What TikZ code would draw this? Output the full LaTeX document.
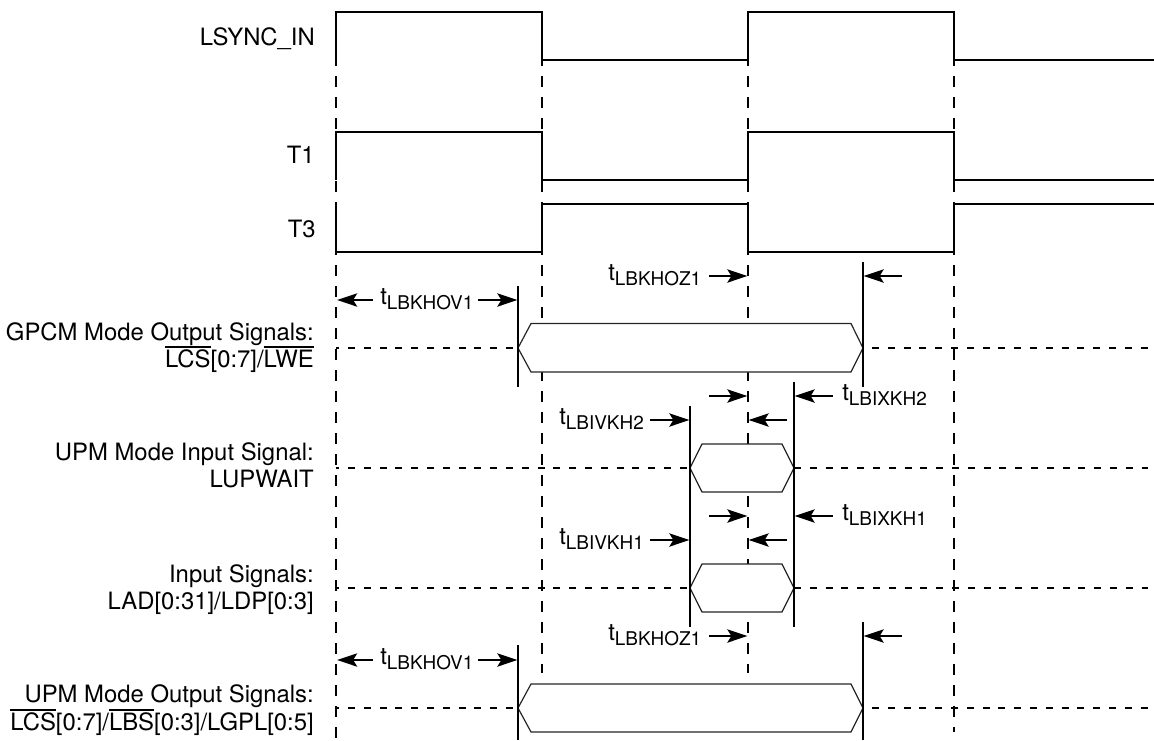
\documentclass[tikz,border=0pt]{standalone}
\usepackage{fontspec}
\usetikzlibrary{arrows.meta}
\setmainfont{TeX Gyre Heros}
\newcommand\ovl[1]{\setbox0\hbox{#1}\rlap{\raisebox{14.6pt}{\rule{\wd0}{1pt}}}\box0}
\newcommand\tmg[1]{t\raisebox{-4.4pt}{\fontsize{14.2}{17}\selectfont #1}}
\tikzset{
  wave/.style={line width=1.6pt,line join=miter,black},
  clockguide/.style={line width=1.8pt,dash pattern=on 8.25pt off 7.5pt},
  levelguide/.style={line width=1.25pt,dash pattern=on 5.25pt off 6.6pt},
  levelphase/.style={levelguide,dash phase=2.85pt},
  bus/.style={line width=0.9pt,draw=black!85,fill=white},
  edgeline/.style={line width=1.6pt},
  dim/.style={line width=1.3pt,-{Stealth[length=15pt,width=10pt,inset=3pt]},shorten >=0.5pt},
  siglabel/.style={anchor=base east,inner sep=0pt,font=\fontsize{17.9}{21}\selectfont},
  timelabel/.style={anchor=base west,inner sep=0pt,font=\fontsize{17.9}{21}\selectfont},
}
\begin{document}
\begin{tikzpicture}[x=0.75pt,y=-0.75pt]
\useasboundingbox (0,0) rectangle (1154,740);
% waveforms
\draw[wave] (336,65)--(336,12)--(542,12)--(542,60)--(748,60)--(748,12)--(954,12)--(954,60)--(1154,60);
\draw[wave] (336,180)--(336,132)--(542,132)--(542,180)--(748,180)--(748,132)--(954,132)--(954,180)--(1154,180);
\draw[wave] (336,204)--(336,252)--(542,252)--(542,204)--(748,204)--(748,252)--(954,252)--(954,204)--(1154,204);
% clock guides
\draw[clockguide] (336,55)--(336,738);
\draw[clockguide] (542,55)--(542,673);
\draw[clockguide] (748,55)--(748,673);
\draw[clockguide] (954,55)--(954,732);
% level guides
\draw[levelphase] (336,348)--(518,348);
\draw[levelguide] (872,348)--(1148,348);
\draw[levelphase] (336,468)--(690,468);
\draw[levelguide] (794,468)--(1148,468);
\draw[levelphase] (336,588)--(690,588);
\draw[levelguide] (794,588)--(1148,588);
\draw[levelphase] (336,708)--(518,708);
\draw[levelguide] (872,708)--(1148,708);
% buses
\draw[bus] (518,348)--(531,323.5)--(851,323.5)--(863,348)--(851,372)--(531,372)--cycle;
\draw[bus] (690,468)--(702,444)--(782,444)--(794,468)--(782,492)--(702,492)--cycle;
\draw[bus] (690,588)--(702,564)--(782,564)--(794,588)--(782,612)--(702,612)--cycle;
\draw[bus] (518,708)--(531,684)--(851,684)--(863,708)--(851,732)--(531,732)--cycle;
% edge lines
\draw[edgeline] (518,286)--(518,387);
\draw[edgeline] (863,262)--(863,387);
\draw[edgeline] (794,382)--(794,627);
\draw[edgeline] (690,406)--(690,627);
\draw[edgeline] (518,645)--(518,740);
\draw[edgeline] (863,622)--(863,740);
% dimension arrows
\draw[dim] (373,300)--(336.5,300);
\draw[dim] (478,300)--(518,300);
\draw[dim] (709,276)--(748,276);
\draw[dim] (902,276)--(863,276);
\draw[dim] (709,396)--(748,396);
\draw[dim] (833,396)--(794,396);
\draw[dim] (650,420)--(690,420);
\draw[dim] (787,420)--(748,420);
\draw[dim] (709,516)--(748,516);
\draw[dim] (833,516)--(794,516);
\draw[dim] (650,540)--(690,540);
\draw[dim] (787,540)--(748,540);
\draw[dim] (709,636)--(748,636);
\draw[dim] (902,636)--(863,636);
\draw[dim] (373,660)--(336.5,660);
\draw[dim] (478,660)--(518,660);
% signal labels
\node[siglabel] (lsync) at (315,45) {LSYNC\_IN};
\node[siglabel] (tone) at (315,163) {T1};
\node[siglabel] (tthree) at (316,237) {T3};
\node[siglabel] (gpcma) at (314,340) {GPCM Mode Output Signals:};
\node[siglabel] (gpcmb) at (314,367) {\ovl{LCS}[0:7]/\ovl{LWE}};
\node[siglabel] (upma) at (314,460) {UPM Mode Input Signal:};
\node[siglabel] (upmb) at (314,487) {LUPWAIT};
\node[siglabel] (inpa) at (314,582) {Input Signals:};
\node[siglabel] (inpb) at (314,609) {LAD[0:31]/LDP[0:3]};
\node[siglabel] (upoa) at (314,702) {UPM Mode Output Signals:};
\node[siglabel] (upob) at (314,730) {\ovl{LCS}[0:7]/\ovl{LBS}[0:3]/LGPL[0:5]};
% timing labels
\node[timelabel] (ta) at (380,304) {\tmg{LBKHOV1}};
\node[timelabel] (tb) at (608,280) {\tmg{LBKHOZ1}};
\node[timelabel] (tc) at (842,400) {\tmg{LBIXKH2}};
\node[timelabel] (td) at (559,424) {\tmg{LBIVKH2}};
\node[timelabel] (te) at (842,520) {\tmg{LBIXKH1}};
\node[timelabel] (tf) at (559,544) {\tmg{LBIVKH1}};
\node[timelabel] (tg) at (608,640) {\tmg{LBKHOZ1}};
\node[timelabel] (th) at (380,664) {\tmg{LBKHOV1}};
\end{tikzpicture}
\end{document}
